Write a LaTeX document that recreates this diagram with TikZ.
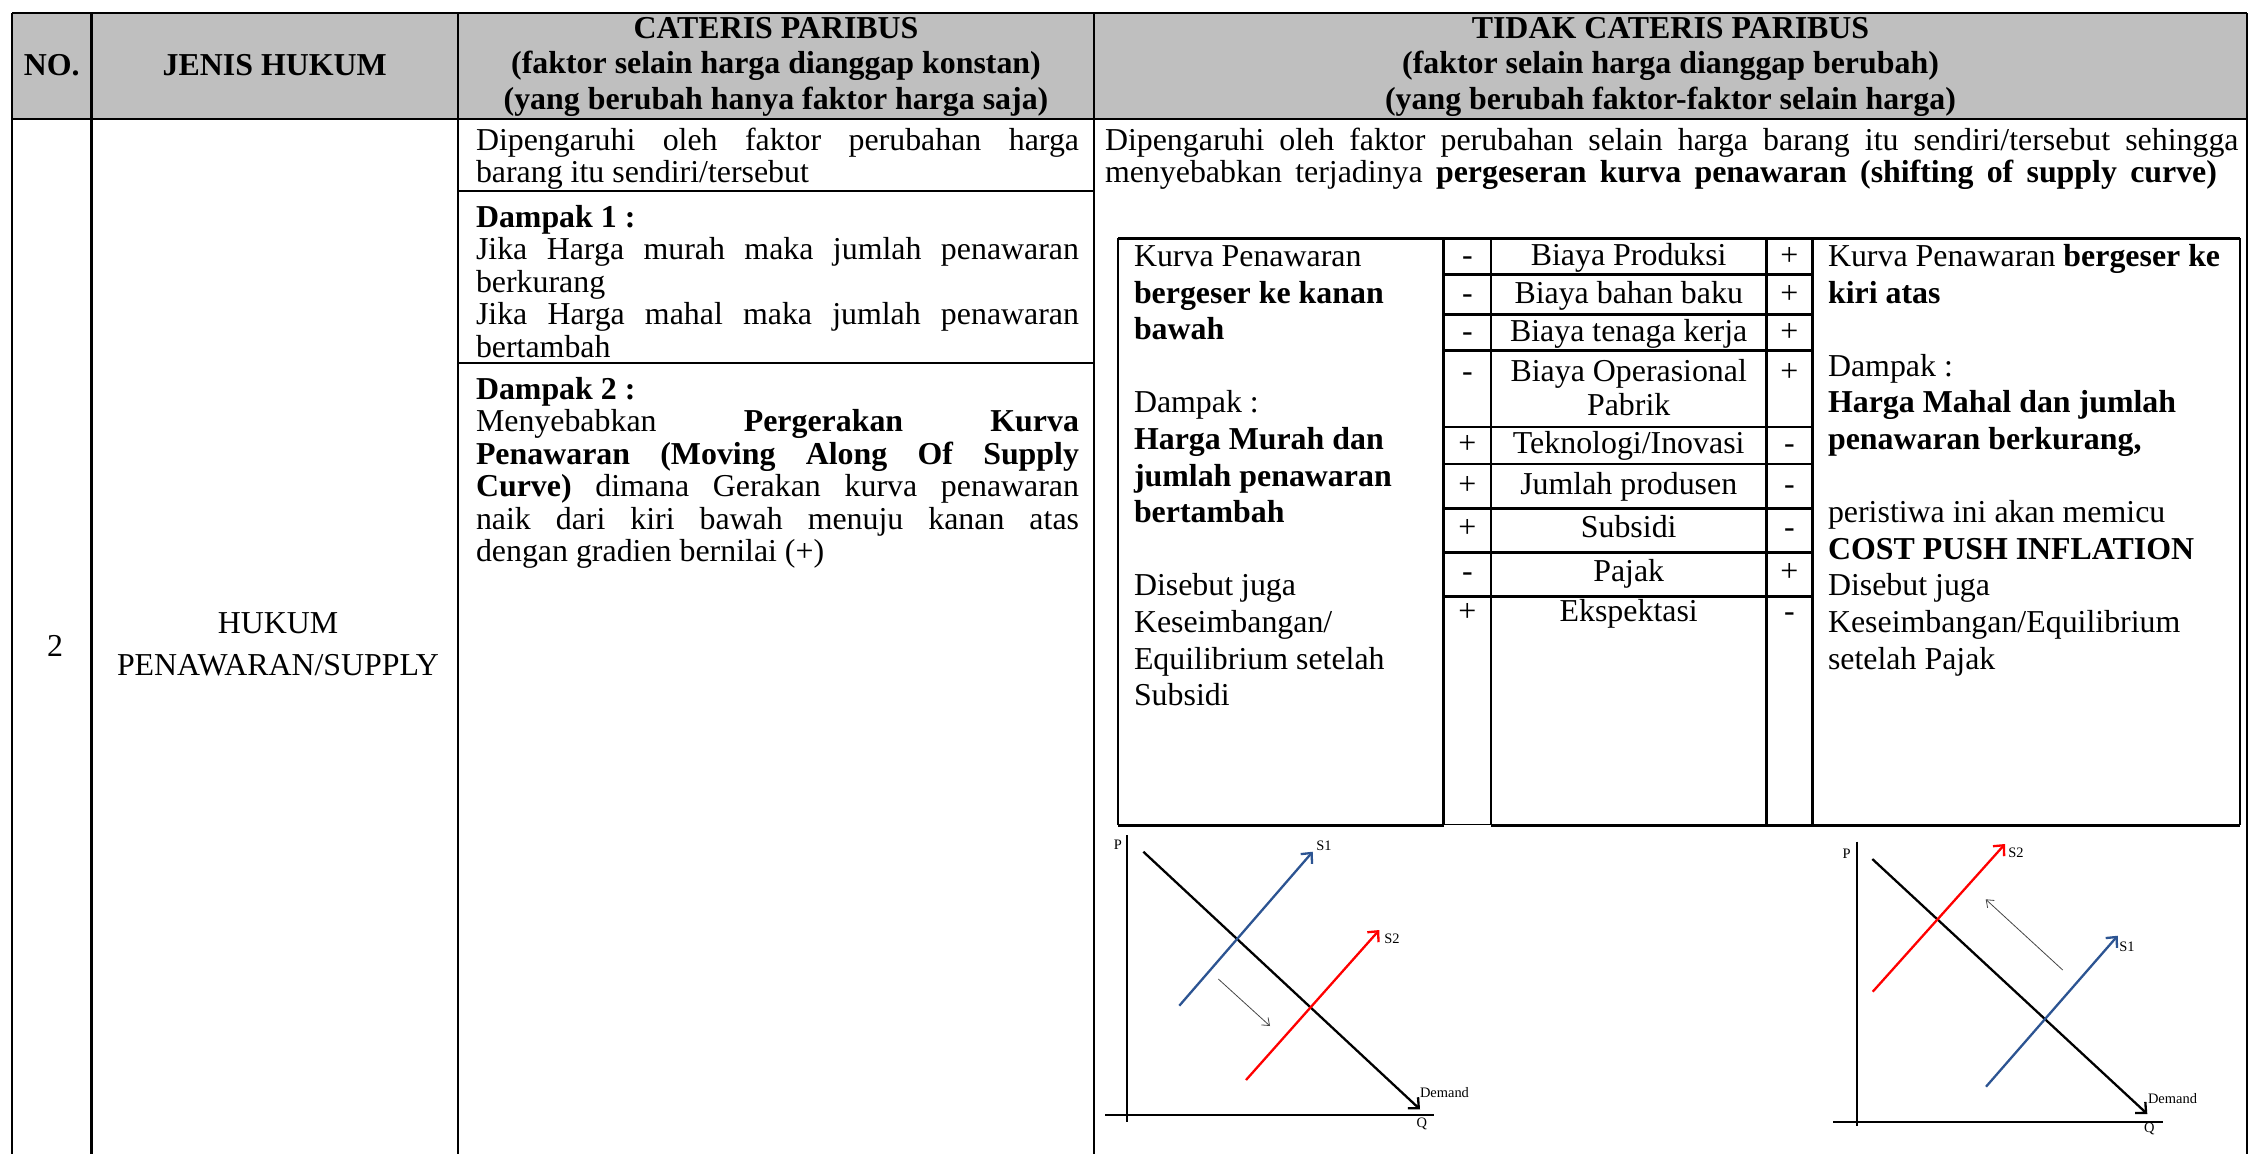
\documentclass[tikz,border=0pt]{standalone}
\usepackage{fontspec}
\setmainfont{Liberation Serif}
\usetikzlibrary{arrows.meta}
\definecolor{hdrgray}{RGB}{191,191,191}
\definecolor{sblue}{RGB}{44,84,146}
\definecolor{thingray}{RGB}{70,70,70}
\newcommand\bodyfnt{\fontsize{32}{32}\selectfont}
\newcommand\lblfnt{\fontsize{14.5}{14.5}\selectfont}
\begin{document}
\begin{tikzpicture}[x=1bp,y=-1bp,
  tl/.style={line width=2.8bp},
  thinl/.style={line width=1.1bp},
  tx/.style={inner sep=0pt, outer sep=0pt, anchor=base west, font=\bodyfnt},
  tc/.style={inner sep=0pt, outer sep=0pt, anchor=base, font=\bodyfnt},
  hd/.style={inner sep=0pt, outer sep=0pt, anchor=base, font=\bodyfnt\bfseries},
  lbl/.style={inner sep=0pt, outer sep=0pt, font=\lblfnt},
  crv/.style={line width=2.3bp, -{Straight Barb[length=8bp,width=15bp]}},
  axisl/.style={line width=2.3bp},
  shiftarr/.style={line width=0.8bp, draw=thingray, -{Straight Barb[length=6.5bp,width=10bp]}},
]
\useasboundingbox (0,0) rectangle (2250,1153);
\fill[white] (0,0) rectangle (2250,1153);
% header background
\fill[hdrgray] (12,13) rectangle (2247,119);
% main table lines
\draw[tl] (12,13) -- (2247,13);
\draw[tl] (12,119) -- (2247,119);
\foreach \xx in {12,91.5,458,1094,2247} \draw[tl] (\xx,13) -- (\xx,1165);
\draw[tl] (458,191) -- (1094,191);
\draw[tl] (458,363) -- (1094,363);

% header texts
\node[hd] (hno) at (51.75,75) {NO.};
\node[hd] (hjenis) at (274.75,75) {JENIS HUKUM};
\node[hd] (hc1) at (776,38) {CATERIS PARIBUS};
\node[hd] (hc2) at (776,73.5) {(faktor selain harga dianggap konstan)};
\node[hd] (hc3) at (776,109.5) {(yang berubah hanya faktor harga saja)};
\node[hd] (ht1) at (1670.5,38) {TIDAK CATERIS PARIBUS};
\node[hd] (ht2) at (1670.5,73.5) {(faktor selain harga dianggap berubah)};
\node[hd] (ht3) at (1670.5,109.5) {(yang berubah faktor-faktor selain harga)};

% column 1 and 2
\node[tc] (no2) at (55,656) {2};
\node[tc] (hk1) at (278,633) {HUKUM};
\node[tc] (hk2) at (278,675) {PENAWARAN/SUPPLY};

% column 3
\node[tx] (c3a) at (476,150) {\makebox[603bp][s]{Dipengaruhi oleh faktor perubahan harga}};
\node[tx] (c3b) at (476,182.5) {barang itu sendiri/tersebut};
\node[tx] (c3c) at (476,227) {\bfseries Dampak 1 :};
\node[tx] (c3d) at (476,259.5) {\makebox[603bp][s]{Jika Harga murah maka jumlah penawaran}};
\node[tx] (c3e) at (476,292) {berkurang};
\node[tx] (c3f) at (476,324.5) {\makebox[603bp][s]{Jika Harga mahal maka jumlah penawaran}};
\node[tx] (c3g) at (476,357) {bertambah};
\node[tx] (c3h) at (476,399) {\bfseries Dampak 2 :};
\node[tx] (c3i) at (476,431.5) {\makebox[603bp][s]{Menyebabkan \textbf{Pergerakan Kurva}}};
\node[tx] (c3j) at (476,464) {\makebox[603bp][s]{\textbf{Penawaran (Moving Along Of Supply}}};
\node[tx] (c3k) at (476,496.5) {\makebox[603bp][s]{\textbf{Curve)} dimana Gerakan kurva penawaran}};
\node[tx] (c3l) at (476,529) {\makebox[603bp][s]{naik dari kiri bawah menuju kanan atas}};
\node[tx] (c3m) at (476,561.5) {dengan gradien bernilai (+)};

% column 4 intro
\node[tx] (c4a) at (1105,150) {\makebox[1133.5bp][s]{Dipengaruhi oleh faktor perubahan selain harga barang itu sendiri/tersebut sehingga}};
\node[tx] (c4b) at (1105,182.5) {\makebox[1112bp][s]{menyebabkan terjadinya \textbf{pergeseran kurva penawaran (shifting of supply curve)}}};

% inner table
\draw[tl] (1118,238.2) -- (2240,238.2);
\draw[tl] (1118,238.2) -- (1118,825.1);
\draw[tl] (2240,238.2) -- (2240,825.1);
\foreach \xx in {1443.5,1491,1766.4,1812.3} \draw[tl] (\xx,238.2) -- (\xx,825.1);
\foreach \yy in {274.4,314.2,350.5,427,464,508.5,552.4,596.2} \draw[tl] (1443.5,\yy) -- (1812.3,\yy);
\draw[tl] (1118,825.1) -- (1443.5,825.1);
\draw[thinl] (1443.5,824.6) -- (1491,824.6);
\draw[tl] (1491,825.1) -- (2240,825.1);

% inner left cell
\node[tx] (l0) at (1134,266.4) {Kurva Penawaran};
\node[tx] (l1) at (1134,303) {\bfseries bergeser ke kanan};
\node[tx] (l2) at (1134,339.6) {\bfseries bawah};
\node[tx] (l4) at (1134,412.8) {Dampak :};
\node[tx] (l5) at (1134,449.4) {\bfseries Harga Murah dan};
\node[tx] (l6) at (1134,486) {\bfseries jumlah penawaran};
\node[tx] (l7) at (1134,522.6) {\bfseries bertambah};
\node[tx] (l9) at (1134,595.8) {Disebut juga};
\node[tx] (l10) at (1134,632.4) {Keseimbangan/};
\node[tx] (l11) at (1134,669) {Equilibrium setelah};
\node[tx] (l12) at (1134,705.6) {Subsidi};

% inner middle column
\node[tc] (m1) at (1628.7,265.4) {Biaya Produksi};
\node[tc] (m2) at (1628.7,303.2) {Biaya bahan baku};
\node[tc] (m3) at (1628.7,341.6) {Biaya tenaga kerja};
\node[tc] (m4) at (1628.7,381.6) {Biaya Operasional};
\node[tc] (m4b) at (1628.7,415.9) {Pabrik};
\node[tc] (m5) at (1628.7,453.8) {Teknologi/Inovasi};
\node[tc] (m6) at (1628.7,494) {Jumlah produsen};
\node[tc] (m7) at (1628.7,537.8) {Subsidi};
\node[tc] (m8) at (1628.7,581.5) {Pajak};
\node[tc] (m9) at (1628.7,621.7) {Ekspektasi};

% signs
\node[tc] (sl1) at (1467.3,265.4) {-};
\node[tc] (sl2) at (1467.3,303.2) {-};
\node[tc] (sl3) at (1467.3,341.6) {-};
\node[tc] (sl4) at (1467.3,381.6) {-};
\node[tc] (sl5) at (1467.3,453.8) {+};
\node[tc] (sl6) at (1467.3,494) {+};
\node[tc] (sl7) at (1467.3,537.8) {+};
\node[tc] (sl8) at (1467.3,581.5) {-};
\node[tc] (sl9) at (1467.3,621.7) {+};
\node[tc] (sr1) at (1789.4,265.4) {+};
\node[tc] (sr2) at (1789.4,303.2) {+};
\node[tc] (sr3) at (1789.4,341.6) {+};
\node[tc] (sr4) at (1789.4,381.6) {+};
\node[tc] (sr5) at (1789.4,453.8) {-};
\node[tc] (sr6) at (1789.4,494) {-};
\node[tc] (sr7) at (1789.4,537.8) {-};
\node[tc] (sr8) at (1789.4,581.5) {+};
\node[tc] (sr9) at (1789.4,621.7) {-};

% inner right cell
\node[tx] (r0) at (1828,266.4) {Kurva Penawaran \textbf{bergeser ke}};
\node[tx] (r1) at (1828,303) {\bfseries kiri atas};
\node[tx] (r3) at (1828,376.2) {Dampak :};
\node[tx] (r4) at (1828,412.8) {\bfseries Harga Mahal dan jumlah};
\node[tx] (r5) at (1828,449.4) {\bfseries penawaran berkurang,};
\node[tx] (r7) at (1828,522.6) {peristiwa ini akan memicu};
\node[tx] (r8) at (1828,559.2) {\bfseries COST PUSH INFLATION};
\node[tx] (r9) at (1828,595.8) {Disebut juga};
\node[tx] (r10) at (1828,632.4) {Keseimbangan/Equilibrium};
\node[tx] (r11) at (1828,669) {setelah Pajak};

% left graph
\draw[axisl] (1127.3,835) -- (1127.3,1121.7);
\draw[axisl] (1105,1115) -- (1434,1115);
\node[lbl] (gp1) at (1118,845) {P};
\node[lbl] (gq1) at (1421.7,1124) {Q};
\coordinate (d1a) at (1143.3,851.7);
\coordinate (d1b) at (1420,1109.3);
\coordinate (s1a) at (1179.3,1005.7);
\coordinate (s1b) at (1312.7,851.7);
\coordinate (s2a) at (1246,1080);
\coordinate (s2b) at (1379.3,930);
\coordinate (m1a) at (1218.3,979);
\coordinate (m1b) at (1270,1026);
\draw[crv,black] (d1a) -- (d1b);
\draw[crv,sblue] (s1a) -- (s1b);
\draw[crv,red] (s2a) -- (s2b);
\draw[shiftarr] (m1a) -- (m1b);
\node[lbl,anchor=west] (gd1) at (1420,1093) {Demand};
\node[lbl] (gs11) at (1324,846) {S1};
\node[lbl] (gs21) at (1392,939) {S2};

% right graph
\draw[axisl] (1857.3,841.7) -- (1857.3,1126);
\draw[axisl] (1833.3,1121.7) -- (2162.7,1121.7);
\node[lbl] (gp2) at (1846.7,853.3) {P};
\node[lbl] (gq2) at (2149.3,1129.3) {Q};
\coordinate (d2a) at (1872.3,859);
\coordinate (d2b) at (2147.3,1114);
\coordinate (t2a) at (1872.7,991.7);
\coordinate (t2b) at (2005,844);
\coordinate (t1a) at (1986,1086.7);
\coordinate (t1b) at (2117.7,935.7);
\coordinate (m2a) at (2062.7,970);
\coordinate (m2b) at (1985.7,899.3);
\draw[crv,black] (d2a) -- (d2b);
\draw[crv,red] (t2a) -- (t2b);
\draw[crv,sblue] (t1a) -- (t1b);
\draw[shiftarr] (m2a) -- (m2b);
\node[lbl,anchor=west] (gd2) at (2148,1098.7) {Demand};
\node[lbl] (gs22) at (2016,853) {S2};
\node[lbl] (gs12) at (2127,947) {S1};
\end{tikzpicture}
\end{document}
